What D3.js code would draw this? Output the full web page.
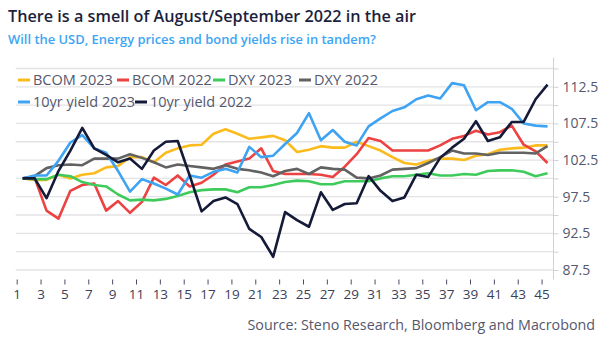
<!DOCTYPE html>
<html>
<head>
<meta charset="utf-8">
<script src="https://cdn.jsdelivr.net/npm/d3@7"></script>
<style>
  body { margin: 0; background: #fff; }
  svg { display: block; font-family: "Open Sans", sans-serif; }
</style>
</head>
<body>
<div id="chart"></div>
<script>
const w = 602;
const h = 344;

// week number since start, every series indexed to 100
const weeks = d3.range(1, 46);
const xTicks = d3.range(1, 46, 2);
const yLabels = [87.5, 92.5, 97.5, 102.5, 107.5, 112.5];
const yGrid = d3.range(87.5, 116, 2.5);

const bcom2023 = [100, 99.8, 99.8, 100.5, 100, 100.5, 100.7, 101.5, 101.7, 102.9,
  102.9, 102.2, 103.5, 104.1, 104.5, 104.6, 106.1, 106.7, 106.1, 105.4,
  105.6, 105.8, 105.2, 103.6, 103.9, 104.4, 104.2, 104.2, 105, 104.4,
  103.8, 102.9, 102.1, 101.9, 102.4, 102.7, 102.7, 102.5, 103.1, 103.3,
  103.9, 104.1, 104.2, 104.5, 104.5];
const bcom2022 = [100, 100.1, 95.6, 94.5, 98.3, 99.1, 99.3, 95.6, 96.9, 95.3,
  96.8, 100.1, 99.1, 100.4, 98.9, 99.4, 100.5, 101.9, 102.3, 102.7,
  104.1, 101.0, 100.6, 100.6, 100.6, 100.5, 100.2, 101.6, 103.3, 105.5,
  105.1, 103.8, 103.8, 103.8, 103.8, 104.5, 105.4, 105.8, 106.5, 106,
  106.3, 107.2, 104.6, 103.7, 102.1];
const dxy2023 = [100, 99.9, 99.9, 100.5, 100.3, 99.5, 99.1, 98.9, 97.8, 97,
  97.1, 97, 97.2, 97.6, 98.1, 98.4, 98.5, 98.5, 98.1, 98.8,
  98.8, 99.1, 99.5, 99.7, 99.6, 99.2, 99.2, 99.6, 99.6, 99.6,
  100, 100.3, 100.3, 100.5, 100.7, 100.4, 100.4, 100.6, 100.5, 101,
  101.1, 101.1, 100.9, 100.3, 100.7];
const dxy2022 = [100, 100.3, 101.4, 101.8, 101.9, 101.8, 102.7, 102.7, 102.7, 103.3,
  102.8, 102.2, 101.5, 101.9, 101.7, 101.5, 101.3, 101.8, 101.3, 101.1,
  100.8, 100.3, 101, 101.3, 100.6, 101.5, 101.3, 101.2, 100.1, 100,
  100.4, 101.2, 101.3, 101.4, 102.1, 102.9, 103.8, 103.4, 103.4, 103.2,
  103.5, 103.5, 103.5, 103.4, 104.4];
const yield2023 = [100, 100.4, 100.4, 102.4, 104.9, 105.9, 104.1, 103.5, 101, 98.2,
  99.9, 99.3, 98.6, 97.8, 100.4, 100.1, 100.9, 101.3, 100.8, 104.3,
  102.9, 103.1, 104.7, 106.2, 108.9, 105.2, 106.6, 105, 104.5, 107.1,
  108.2, 109.2, 109.7, 110.8, 111.3, 110.9, 113, 112.7, 109.3, 110.4,
  110.4, 109.5, 107.5, 107.2, 107.1];
const yield2022 = [100, 100, 97.3, 101, 103.8, 106.9, 104.1, 103.2, 102.2, 102.7,
  101.3, 103.8, 105, 105.1, 100.4, 95.5, 96.9, 97.4, 96.5, 93.1,
  92, 89.3, 95.4, 94.3, 93.4, 98.1, 95.7, 96.5, 96.6, 100.3,
  98.3, 96.9, 97.4, 100.5, 100.2, 102.8, 104.2, 105.4, 107.8, 105.1,
  105.6, 107.7, 107.7, 110.8, 112.8];

const seriesNames = ["BCOM 2023", "BCOM 2022", "DXY 2023", "DXY 2022", "10yr yield 2023", "10yr yield 2022"];
const seriesValues = [bcom2023, bcom2022, dxy2023, dxy2022, yield2023, yield2022];
const colors = ["#fbbb1c", "#ec4242", "#3ecb5c", "#626262", "#3ea3f2", "#141a38"];

const series = seriesNames.map((name, k) => ({
  name,
  color: colors[k],
  values: weeks.map((wk, i) => ({ wk, v: seriesValues[k][i] }))
}));

const svg = d3.select("#chart").append("svg").attr("width", w).attr("height", h);

const xScale = d3.scaleLinear().domain([1, 46]).range([16.7, 553.5]);
const yScale = d3.scaleLinear().domain([86.2, 116.5]).range([279.5, 57.5]);

// title + subtitle
svg.append("text")
  .attr("x", 8).attr("y", 22)
  .attr("font-size", 16).attr("font-weight", 600).attr("fill", "#1c1f3d")
  .attr("textLength", 408).attr("lengthAdjust", "spacingAndGlyphs")
  .text("There is a smell of August/September 2022 in the air");
svg.append("text")
  .attr("x", 8).attr("y", 44)
  .attr("font-size", 12.5).attr("font-weight", 600).attr("fill", "#3da5f4")
  .attr("textLength", 368).attr("lengthAdjust", "spacingAndGlyphs")
  .text("Will the USD, Energy prices and bond yields rise in tandem?");

// gridlines
svg.append("g")
  .selectAll("line")
  .data(yGrid)
  .join("line")
  .attr("x1", xScale(1) - 1).attr("x2", xScale.range()[1])
  .attr("y1", (d) => yScale(d)).attr("y2", (d) => yScale(d))
  .attr("stroke", "#e3e3e6").attr("stroke-width", 1.3);

// right axis
const yAxis = svg.append("g")
  .attr("transform", `translate(${xScale.range()[1]},0)`)
  .call(d3.axisRight(yScale).tickValues(yGrid).tickSize(5).tickFormat((d) => (yLabels.includes(d) ? d3.format(".1f")(d) : "")));
yAxis.select(".domain").attr("stroke", "#cfd0d8").attr("d", `M0,${yScale.range()[1]}V${yScale.range()[0]}`);
yAxis.selectAll(".tick line").attr("stroke", "#cfd0d8");
yAxis.selectAll(".tick text")
  .attr("x", 9)
  .attr("font-family", "Open Sans, sans-serif").attr("font-size", 14).attr("fill", "#55586e");

// bottom axis, ticks only
const xAxis = svg.append("g")
  .attr("transform", `translate(0,${yScale.range()[0]})`)
  .call(d3.axisBottom(xScale).tickValues(xTicks).tickSize(5).tickPadding(5).tickFormat(d3.format("d")));
xAxis.select(".domain").remove();
xAxis.selectAll(".tick line").attr("stroke", "#4a4d66");
xAxis.selectAll(".tick text")
  .attr("font-family", "Open Sans, sans-serif").attr("font-size", 13.5).attr("fill", "#3c3f58");

// lines, points sit mid-week
const line = d3.line().x((d) => xScale(d.wk + 0.5)).y((d) => yScale(d.v));
svg.append("g")
  .selectAll("path")
  .data(series)
  .join("path")
  .attr("d", (d) => line(d.values))
  .attr("fill", "none")
  .attr("stroke", (d) => d.color)
  .attr("stroke-width", 2.6)
  .attr("stroke-linejoin", "round");

// legend
const legendPos = [[18, 80], [117, 80], [213, 80], [299, 80], [18, 102], [135, 102]];
const legend = svg.append("g")
  .selectAll("g")
  .data(series)
  .join("g")
  .attr("transform", (d, i) => `translate(${legendPos[i][0]},${legendPos[i][1]})`);
legend.append("line")
  .attr("x1", 0).attr("x2", 12)
  .attr("stroke", (d) => d.color).attr("stroke-width", 3);
legend.append("text")
  .attr("x", 15).attr("dy", "0.36em")
  .attr("font-size", 14.5).attr("fill", "#55586e")
  .text((d) => d.name);

// source
svg.append("text")
  .attr("x", 595).attr("y", 330)
  .attr("text-anchor", "end")
  .attr("font-size", 14.3).attr("fill", "#55586e")
  .text("Source: Steno Research, Bloomberg and Macrobond");
</script>
</body>
</html>
